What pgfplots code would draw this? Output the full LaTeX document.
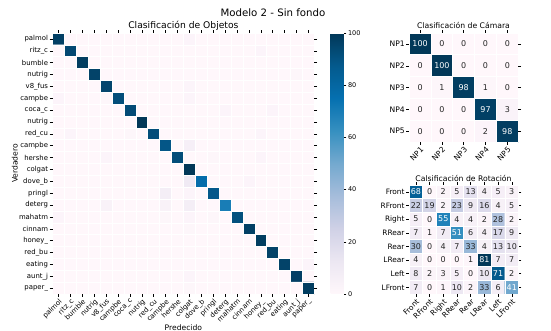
\documentclass[border=0pt]{standalone}
\usepackage{pgfplots}
\pgfplotsset{compat=1.18}
\usepackage{pgfplotstable}
\usepackage{fontspec}
\setmainfont{DejaVu Sans}
\definecolor{txt}{HTML}{262626}
\pgfplotsset{
  colormap={pubu}{rgb255=(255,247,251) rgb255=(236,231,242) rgb255=(208,209,230) rgb255=(166,189,219) rgb255=(116,169,207) rgb255=(54,144,192) rgb255=(5,112,176) rgb255=(4,90,141) rgb255=(2,56,88)},
  every axis/.append style={/pgf/number format/assume math mode=true},
  hm/.style={
    scale only axis, colormap name=pubu, enlargelimits=false, y dir=reverse,
    axis line style={draw=none}, tick align=outside, major tick length=2.8pt,
    tick style={black, line width=0.5pt},
    grid=minor, minor tick length=0pt, axis on top,
    xticklabel style={rotate=45, anchor=north east, inner sep=1pt},
    yticklabel style={inner sep=1.5pt},
  },
  annot/.style={only marks, mark=none, point meta=explicit symbolic,
    nodes near coords, nodes near coords style={anchor=center, font=\fontsize{8}{9}\selectfont, inner sep=0pt, text=#1}},
}
\pgfplotstableread[row sep=\\]{
x y c\\
0 0 97\\1 0 0\\2 0 0\\3 0 0\\4 0 0\\5 0 0\\6 0 0\\7 0 0\\8 0 0\\9 0 0\\10 0 0\\11 0 2\\12 0 0\\13 0 0\\14 0 0\\15 0 0\\16 0 0\\17 0 0\\18 0 0\\19 0 0\\20 0 0\\21 0 0\\
0 1 0\\1 1 94\\2 1 0\\3 1 0\\4 1 0\\5 1 0\\6 1 0\\7 1 0\\8 1 0\\9 1 0\\10 1 0\\11 1 0\\12 1 0\\13 1 0\\14 1 0\\15 1 0\\16 1 0\\17 1 2\\18 1 0\\19 1 0\\20 1 0\\21 1 0\\
0 2 0\\1 2 0\\2 2 98\\3 2 0\\4 2 0\\5 2 0\\6 2 0\\7 2 0\\8 2 0\\9 2 0\\10 2 0\\11 2 0\\12 2 0\\13 2 0\\14 2 0\\15 2 0\\16 2 0\\17 2 0\\18 2 0\\19 2 0\\20 2 0\\21 2 0\\
0 3 0\\1 3 0\\2 3 0\\3 3 96\\4 3 0\\5 3 0\\6 3 0\\7 3 0\\8 3 0\\9 3 0\\10 3 0\\11 3 0\\12 3 0\\13 3 0\\14 3 0\\15 3 0\\16 3 0\\17 3 0\\18 3 0\\19 3 0\\20 3 1\\21 3 0\\
0 4 0\\1 4 0\\2 4 0\\3 4 0\\4 4 95\\5 4 0\\6 4 0\\7 4 0\\8 4 0\\9 4 0\\10 4 0\\11 4 2\\12 4 0\\13 4 0\\14 4 0\\15 4 0\\16 4 0\\17 4 0\\18 4 0\\19 4 0\\20 4 0\\21 4 0\\
0 5 2\\1 5 0\\2 5 0\\3 5 0\\4 5 1\\5 5 92\\6 5 0\\7 5 0\\8 5 0\\9 5 0\\10 5 0\\11 5 2\\12 5 0\\13 5 0\\14 5 0\\15 5 0\\16 5 0\\17 5 0\\18 5 0\\19 5 0\\20 5 0\\21 5 0\\
0 6 0\\1 6 0\\2 6 0\\3 6 0\\4 6 0\\5 6 0\\6 6 93\\7 6 0\\8 6 0\\9 6 0\\10 6 0\\11 6 0\\12 6 0\\13 6 0\\14 6 2\\15 6 0\\16 6 0\\17 6 0\\18 6 2\\19 6 0\\20 6 0\\21 6 0\\
0 7 0\\1 7 0\\2 7 0\\3 7 0\\4 7 0\\5 7 0\\6 7 0\\7 7 100\\8 7 0\\9 7 0\\10 7 0\\11 7 0\\12 7 0\\13 7 0\\14 7 0\\15 7 0\\16 7 0\\17 7 0\\18 7 0\\19 7 0\\20 7 0\\21 7 0\\
0 8 0\\1 8 2\\2 8 0\\3 8 0\\4 8 0\\5 8 0\\6 8 1\\7 8 0\\8 8 92\\9 8 0\\10 8 0\\11 8 0\\12 8 0\\13 8 0\\14 8 0\\15 8 0\\16 8 0\\17 8 2\\18 8 0\\19 8 0\\20 8 0\\21 8 0\\
0 9 0\\1 9 0\\2 9 0\\3 9 0\\4 9 0\\5 9 0\\6 9 0\\7 9 0\\8 9 0\\9 9 89\\10 9 0\\11 9 6\\12 9 0\\13 9 0\\14 9 0\\15 9 0\\16 9 0\\17 9 0\\18 9 0\\19 9 0\\20 9 0\\21 9 0\\
0 10 0\\1 10 0\\2 10 0\\3 10 0\\4 10 2\\5 10 0\\6 10 0\\7 10 0\\8 10 0\\9 10 0\\10 10 92\\11 10 0\\12 10 0\\13 10 1\\14 10 0\\15 10 0\\16 10 0\\17 10 2\\18 10 0\\19 10 0\\20 10 0\\21 10 0\\
0 11 0\\1 11 0\\2 11 0\\3 11 0\\4 11 0\\5 11 0\\6 11 0\\7 11 0\\8 11 0\\9 11 0\\10 11 0\\11 11 100\\12 11 0\\13 11 0\\14 11 0\\15 11 0\\16 11 0\\17 11 0\\18 11 0\\19 11 0\\20 11 0\\21 11 0\\
0 12 0\\1 12 0\\2 12 0\\3 12 0\\4 12 0\\5 12 0\\6 12 0\\7 12 0\\8 12 0\\9 12 0\\10 12 0\\11 12 10\\12 12 77\\13 12 0\\14 12 0\\15 12 0\\16 12 2\\17 12 0\\18 12 0\\19 12 0\\20 12 0\\21 12 0\\
0 13 0\\1 13 0\\2 13 0\\3 13 0\\4 13 0\\5 13 0\\6 13 0\\7 13 0\\8 13 0\\9 13 7\\10 13 0\\11 13 2\\12 13 0\\13 13 88\\14 13 0\\15 13 0\\16 13 0\\17 13 0\\18 13 0\\19 13 0\\20 13 0\\21 13 0\\
0 14 0\\1 14 0\\2 14 0\\3 14 0\\4 14 4\\5 14 0\\6 14 0\\7 14 0\\8 14 0\\9 14 4\\10 14 0\\11 14 7\\12 14 0\\13 14 0\\14 14 70\\15 14 0\\16 14 0\\17 14 0\\18 14 0\\19 14 0\\20 14 0\\21 14 0\\
0 15 2\\1 15 0\\2 15 0\\3 15 0\\4 15 0\\5 15 0\\6 15 0\\7 15 0\\8 15 0\\9 15 1\\10 15 0\\11 15 2\\12 15 0\\13 15 1\\14 15 0\\15 15 91\\16 15 0\\17 15 0\\18 15 0\\19 15 0\\20 15 0\\21 15 0\\
0 16 0\\1 16 0\\2 16 0\\3 16 0\\4 16 0\\5 16 0\\6 16 0\\7 16 0\\8 16 0\\9 16 0\\10 16 0\\11 16 1\\12 16 0\\13 16 0\\14 16 0\\15 16 0\\16 16 97\\17 16 0\\18 16 0\\19 16 0\\20 16 0\\21 16 0\\
0 17 0\\1 17 0\\2 17 0\\3 17 0\\4 17 0\\5 17 0\\6 17 0\\7 17 0\\8 17 0\\9 17 0\\10 17 0\\11 17 0\\12 17 0\\13 17 0\\14 17 0\\15 17 0\\16 17 0\\17 17 98\\18 17 0\\19 17 0\\20 17 0\\21 17 0\\
0 18 0\\1 18 0\\2 18 0\\3 18 0\\4 18 0\\5 18 0\\6 18 0\\7 18 0\\8 18 0\\9 18 0\\10 18 0\\11 18 0\\12 18 0\\13 18 0\\14 18 0\\15 18 0\\16 18 0\\17 18 0\\18 18 96\\19 18 0\\20 18 0\\21 18 0\\
0 19 0\\1 19 0\\2 19 0\\3 19 0\\4 19 0\\5 19 0\\6 19 0\\7 19 0\\8 19 0\\9 19 0\\10 19 0\\11 19 0\\12 19 0\\13 19 0\\14 19 0\\15 19 0\\16 19 0\\17 19 0\\18 19 0\\19 19 96\\20 19 0\\21 19 2\\
0 20 0\\1 20 0\\2 20 0\\3 20 0\\4 20 0\\5 20 0\\6 20 0\\7 20 0\\8 20 0\\9 20 0\\10 20 0\\11 20 2\\12 20 0\\13 20 0\\14 20 0\\15 20 0\\16 20 0\\17 20 0\\18 20 0\\19 20 0\\20 20 97\\21 20 0\\
0 21 0\\1 21 0\\2 21 0\\3 21 0\\4 21 0\\5 21 0\\6 21 0\\7 21 0\\8 21 0\\9 21 0\\10 21 0\\11 21 1\\12 21 0\\13 21 0\\14 21 0\\15 21 0\\16 21 0\\17 21 0\\18 21 0\\19 21 0\\20 21 0\\21 21 98\\
}\bigtab
\pgfplotstableread[row sep=\\]{
x y c\\
0 0 100\\1 0 0\\2 0 0\\3 0 0\\4 0 0\\
0 1 0\\1 1 100\\2 1 0\\3 1 0\\4 1 0\\
0 2 0\\1 2 1\\2 2 98\\3 2 1\\4 2 0\\
0 3 0\\1 3 0\\2 3 0\\3 3 97\\4 3 3\\
0 4 0\\1 4 0\\2 4 0\\3 4 2\\4 4 98\\
}\camtab
\pgfplotstableread[row sep=\\]{
x y c\\
0 0 68\\1 0 0\\2 0 2\\3 0 5\\4 0 13\\5 0 4\\6 0 5\\7 0 3\\
0 1 22\\1 1 19\\2 1 2\\3 1 23\\4 1 9\\5 1 16\\6 1 4\\7 1 5\\
0 2 5\\1 2 0\\2 2 55\\3 2 4\\4 2 4\\5 2 2\\6 2 28\\7 2 2\\
0 3 7\\1 3 1\\2 3 7\\3 3 51\\4 3 6\\5 3 4\\6 3 17\\7 3 9\\
0 4 30\\1 4 0\\2 4 4\\3 4 7\\4 4 33\\5 4 4\\6 4 13\\7 4 10\\
0 5 4\\1 5 0\\2 5 0\\3 5 0\\4 5 1\\5 5 81\\6 5 7\\7 5 7\\
0 6 8\\1 6 2\\2 6 3\\3 6 5\\4 6 0\\5 6 10\\6 6 71\\7 6 2\\
0 7 7\\1 7 0\\2 7 1\\3 7 10\\4 7 2\\5 7 33\\6 7 6\\7 7 41\\
}\rottab
\begin{document}
\begin{tikzpicture}
\useasboundingbox (0,0) rectangle (551pt,-331pt);
% big matrix
\begin{axis}[hm, at={(52.5pt,-33pt)}, anchor=north west, width=261.8pt, height=261pt,
  xmin=-0.5, xmax=21.5, ymin=-0.5, ymax=21.5,
  xtick={0,...,21}, ytick={0,...,21},
  minor xtick={-0.5,0.5,...,21.5}, minor ytick={-0.5,0.5,...,21.5},
  minor grid style={white, line width=0.6pt},
  xticklabels={palmol,ritz\_c,bumble,nutrig,v8\_fus,campbe,coca\_c,nutrig,red\_cu,campbe,hershe,colgat,dove\_b,pringl,deterg,mahatm,cinnam,honey\_,red\_bu,eating,aunt\_j,paper\_},
  yticklabels={palmol,ritz\_c,bumble,nutrig,v8\_fus,campbe,coca\_c,nutrig,red\_cu,campbe,hershe,colgat,dove\_b,pringl,deterg,mahatm,cinnam,honey\_,red\_bu,eating,aunt\_j,paper\_},
  ticklabel style={font=\fontsize{6.9}{7}\selectfont},
  point meta min=0, point meta max=100,
  colorbar,
  colorbar style={at={(parent axis.north east)}, anchor=north west, xshift=7.7pt,
    width=13pt, ytick={0,20,40,60,80,100}, axis line style={draw=none},
    tick align=outside, major tick length=2.8pt, tick style={black, line width=0.5pt},
    ytick pos=right, yticklabel pos=right,
    yticklabel style={font=\fontsize{6.5}{7}\selectfont, inner sep=1.5pt}},
]
\addplot[matrix plot*, mesh/cols=22, point meta=explicit] table[x=x, y=y, meta=c]{\bigtab};
\end{axis}
% camera
\begin{axis}[hm, at={(409.2pt,-33.1pt)}, anchor=north west, width=109pt, height=109pt,
  xmin=-0.5, xmax=4.5, ymin=-0.5, ymax=4.5,
  xtick={0,...,4}, ytick={0,...,4},
  minor xtick={-0.5,0.5,...,4.5}, minor ytick={-0.5,0.5,...,4.5},
  minor grid style={white, line width=0.8pt},
  xticklabels={NP1,NP2,NP3,NP4,NP5}, yticklabels={NP1,NP2,NP3,NP4,NP5},
  ticklabel style={font=\fontsize{7.6}{8}\selectfont},
  point meta min=0, point meta max=100,
]
\addplot[matrix plot*, mesh/cols=5, point meta=explicit] table[x=x, y=y, meta=c]{\camtab};
\addplot[annot=white, restrict expr to domain={\thisrow{c}}{46:1000}] table[x=x, y=y, meta=c]{\camtab};
\addplot[annot=txt, restrict expr to domain={\thisrow{c}}{-1:45}] table[x=x, y=y, meta=c]{\camtab};
\end{axis}
% rotation
\begin{axis}[hm, at={(409pt,-185pt)}, anchor=north west, width=109.6pt, height=109.2pt,
  xmin=-0.5, xmax=7.5, ymin=-0.5, ymax=7.5,
  xtick={0,...,7}, ytick={0,...,7},
  minor xtick={-0.5,0.5,...,7.5}, minor ytick={-0.5,0.5,...,7.5},
  minor grid style={white, line width=0.8pt},
  xticklabels={Front,RFront,Right,RRear,Rear,LRear,Left,LFront},
  yticklabels={Front,RFront,Right,RRear,Rear,LRear,Left,LFront},
  ticklabel style={font=\fontsize{7.4}{8}\selectfont},
  point meta min=0, point meta max=81,
]
\addplot[matrix plot*, mesh/cols=8, point meta=explicit] table[x=x, y=y, meta=c]{\rottab};
\addplot[annot=white, restrict expr to domain={\thisrow{c}}{37:1000}] table[x=x, y=y, meta=c]{\rottab};
\addplot[annot=txt, restrict expr to domain={\thisrow{c}}{-1:36}] table[x=x, y=y, meta=c]{\rottab};
\end{axis}
\node[anchor=base, font=\fontsize{10.2}{12}\selectfont] at (273pt,-16.7pt) {Modelo 2 - Sin fondo};
\node[anchor=base, font=\fontsize{9.2}{11}\selectfont] at (183.4pt,-28.3pt) {Clasificación de Objetos};
\node[anchor=base, font=\fontsize{7.7}{9}\selectfont] at (463.5pt,-28.3pt) {Clasificación de Cámara};
\node[anchor=base, font=\fontsize{7.7}{9}\selectfont] at (463.5pt,-181.7pt) {Calsificación de Rotación};
\node[anchor=base, font=\fontsize{7.6}{9}\selectfont] at (183.4pt,-330.3pt) {Predecido};
\node[anchor=base, rotate=90, font=\fontsize{7.6}{9}\selectfont] at (17.5pt,-163.5pt) {Verdadero};
\end{tikzpicture}
\end{document}
